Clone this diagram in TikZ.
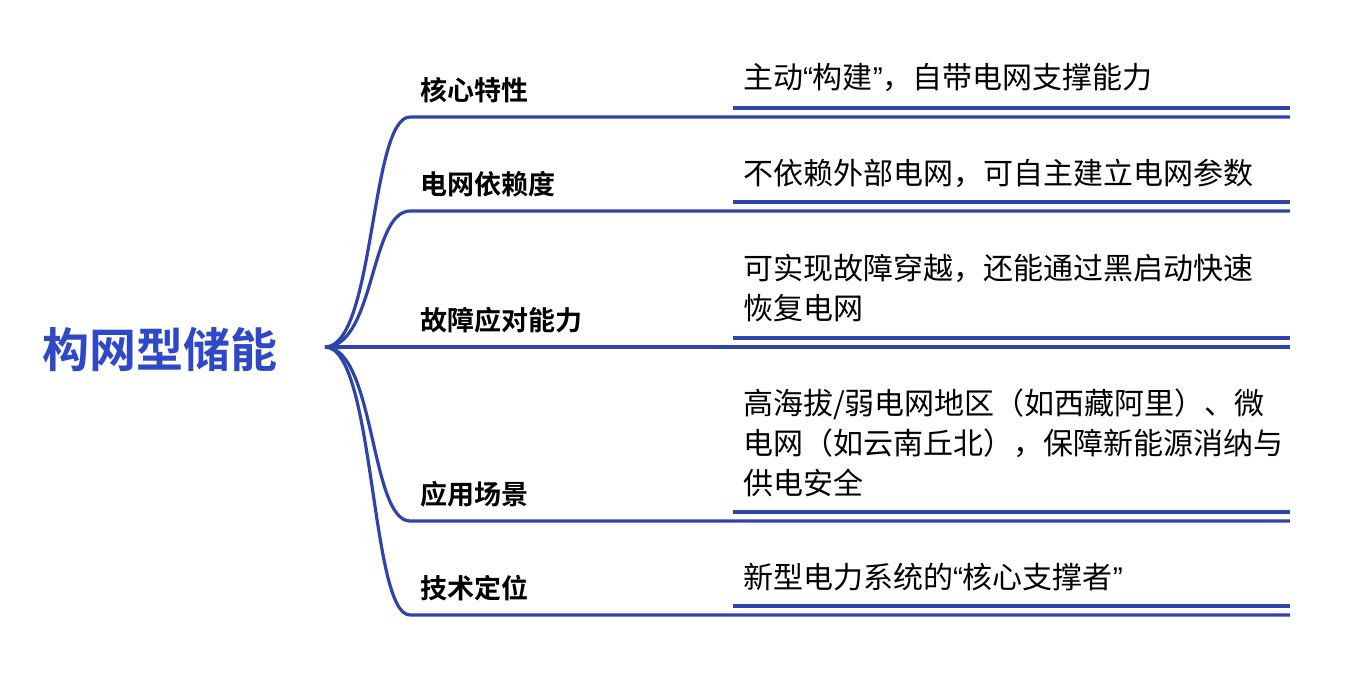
\documentclass[tikz,border=0pt]{standalone}
\usepackage{fontspec}
\setmainfont{Noto Sans CJK SC}
\newfontfamily\cjkb{Noto Sans CJK SC Bold}
\newfontfamily\lat{Liberation Sans}
\newcommand{\myoq}{{\lat “}}
\newcommand{\mycq}{{\lat ”}}
\definecolor{ln}{HTML}{2F44AA}
\definecolor{rt}{HTML}{2E48C8}
\begin{document}
\begin{tikzpicture}[x=0.5pt,y=-0.5pt,
  lab/.style={anchor=west,font=\cjkb\fontsize{13.5}{16}\selectfont,inner sep=0},
  desc/.style={anchor=center,font=\fontsize{15}{20}\selectfont,align=left,inner sep=0,text width=290pt},
  br/.style={draw=ln,line width=1.6pt}]
\useasboundingbox (0,0) rectangle (1351,685);
\node[anchor=west,inner sep=0,text=rt,font=\cjkb\fontsize{23.5}{26}\selectfont] (root) at (42,350) {构网型储能};
\coordinate (o) at (325,347);
\foreach \y/\n/\l/\ty in {117/a/核心特性/90, 211/b/电网依赖度/184, 347/c/故障应对能力/320, 521/d/应用场景/494, 615/e/技术定位/588}{
  \coordinate (s\n) at (410,\y);
  \coordinate (t\n) at (1290,\y);
  \draw[br] (o) .. controls (375,347) and (370,\y) .. (s\n) -- (t\n);
  \coordinate (u\n) at (733,\y-9);
  \coordinate (v\n) at (1290,\y-9);
  \draw[br] (u\n) -- (v\n);
  \node[lab] (l\n) at (420,\ty) {\l};
}
\node[desc] (da) at (743+290,77) {主动\myoq 构建\mycq，自带电网支撑能力};
\node[desc] (db) at (743+290,173) {不依赖外部电网，可自主建立电网参数};
\node[desc] (dc) at (743+290,288) {可实现故障穿越，还能通过黑启动快速\\恢复电网};
\node[desc] (dd) at (743+290,443) {高海拔/弱电网地区（如西藏阿里）、微\\电网（如云南丘北），保障新能源消纳与\\供电安全};
\node[desc] (de) at (743+290,577) {新型电力系统的\myoq 核心支撑者\mycq};
\end{tikzpicture}
\end{document}
